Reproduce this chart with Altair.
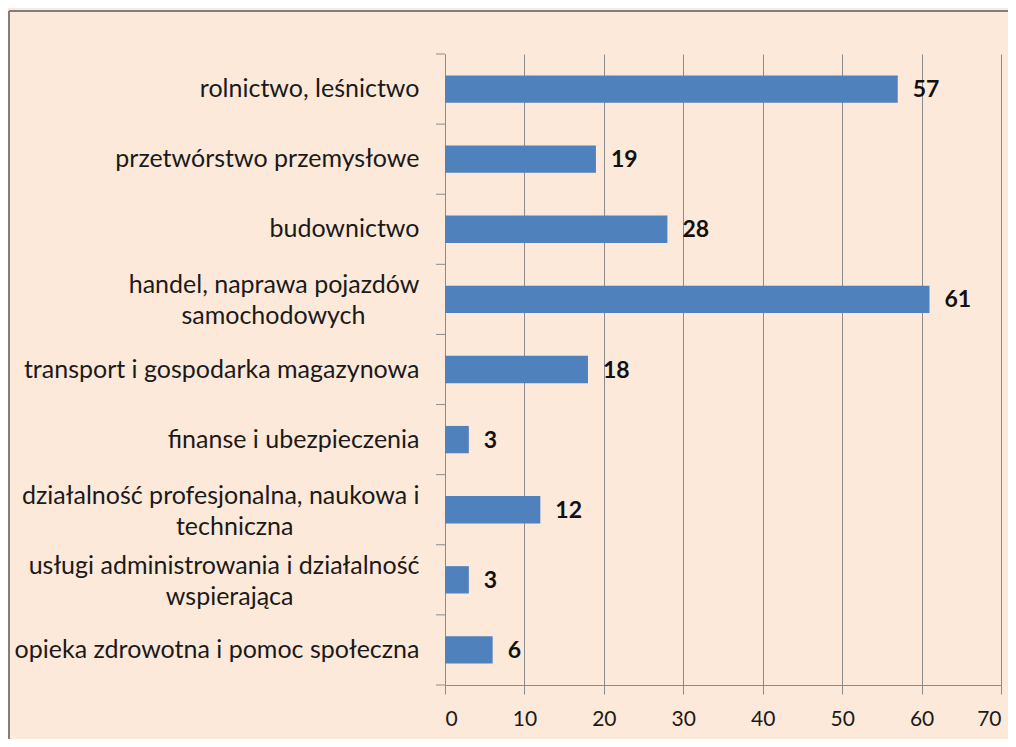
import altair as alt
import pandas as pd

categories = [
    "rolnictwo, leśnictwo",
    "przetwórstwo przemysłowe",
    "budownictwo",
    "handel,  naprawa pojazdów\nsamochodowych",
    "transport i gospodarka magazynowa",
    "finanse i ubezpieczenia",
    "działalność profesjonalna, naukowa i\ntechniczna",
    "usługi administrowania i działalność\nwspierająca",
    "opieka zdrowotna i pomoc społeczna",
]
values = [57, 19, 28, 61, 18, 3, 12, 3, 6]
x_ticks = [0, 10, 20, 30, 40, 50, 60, 70]

df = pd.DataFrame({"cat": categories, "val": values})

GRAY = "#8c8c8c"
FONT = "Lato"
BLANK = "\u2800"

# second line of a two-line label is padded on the right so it sits centred under the first
lines = "split(datum.label, '\\n')"
label_expr = (
    f"length({lines}) > 1 ? [{lines}[0], pad({lines}[1], "
    f"length({lines}[1]) + round(0.28 * (length({lines}[0]) - length({lines}[1]))), '{BLANK}')] "
    f": datum.label"
)

y_main = alt.Y(
    "cat:N", sort=categories, title=None,
    scale=alt.Scale(paddingInner=0.61, paddingOuter=0.305),
    axis=alt.Axis(ticks=False, domainColor=GRAY, domainWidth=1, labelFont=FONT,
                  labelFontSize=25, labelColor="#1a1a1a", labelPadding=26,
                  labelLineHeight=31, labelExpr=label_expr, labelLimit=600, grid=False,
                  labelOffset={"condition": {"test": "indexof(datum.value, '\\n') >= 0",
                                             "value": -14}, "value": 0}),
)
x_enc = alt.X(
    "val:Q", title=None,
    scale=alt.Scale(domain=[0, 70], nice=False),
    axis=alt.Axis(values=x_ticks, grid=True, gridColor=GRAY, tickColor=GRAY, tickSize=9,
                  domainColor=GRAY, labelFont=FONT, labelFontSize=21,
                  labelColor="#1a1a1a", labelPadding=14),
)

bars = alt.Chart(df).mark_bar(color="#4F81BD").encode(x=x_enc, y=y_main)
text = alt.Chart(df).mark_text(
    align="left", baseline="middle", dx=15, dy=1, font=FONT, fontSize=23,
    fontWeight="bold", color="#111111",
).encode(x="val:Q", y=alt.Y("cat:N", sort=categories), text="val:Q")
main = alt.layer(bars, text)

cat_ticks = alt.Chart(df).mark_rule(color=GRAY).encode(
    y=alt.Y("cat:N", sort=categories, bandPosition=0,
            scale=alt.Scale(paddingInner=0, paddingOuter=0), axis=None),
    x=alt.value(-9), x2=alt.value(0),
)
one = pd.DataFrame({"a": [0]})
bottom_tick = alt.Chart(one).mark_rule(color=GRAY).encode(
    y=alt.value(631), x=alt.value(-9), x2=alt.value(0))
border_top = alt.Chart(one).mark_rule(color="#7f7f7f", strokeWidth=2).encode(
    y=alt.value(-43), x=alt.value(-436), x2=alt.value(563))
border_left = alt.Chart(one).mark_rule(color="#7f7f7f", strokeWidth=2).encode(
    x=alt.value(-436), y=alt.value(-43), y2=alt.value(685))

chart = alt.layer(main, cat_ticks, bottom_tick, border_top, border_left).resolve_scale(
    y="independent"
).properties(
    width=556, height=631,
    autosize=alt.AutoSizeParams(type="none"),
    padding={"left": 437, "top": 46, "right": 7, "bottom": 54},
    background="#FDE9D9",
).configure_view(stroke=None)

chart.save("out.html", embed_options={"renderer": "svg", "actions": False})
